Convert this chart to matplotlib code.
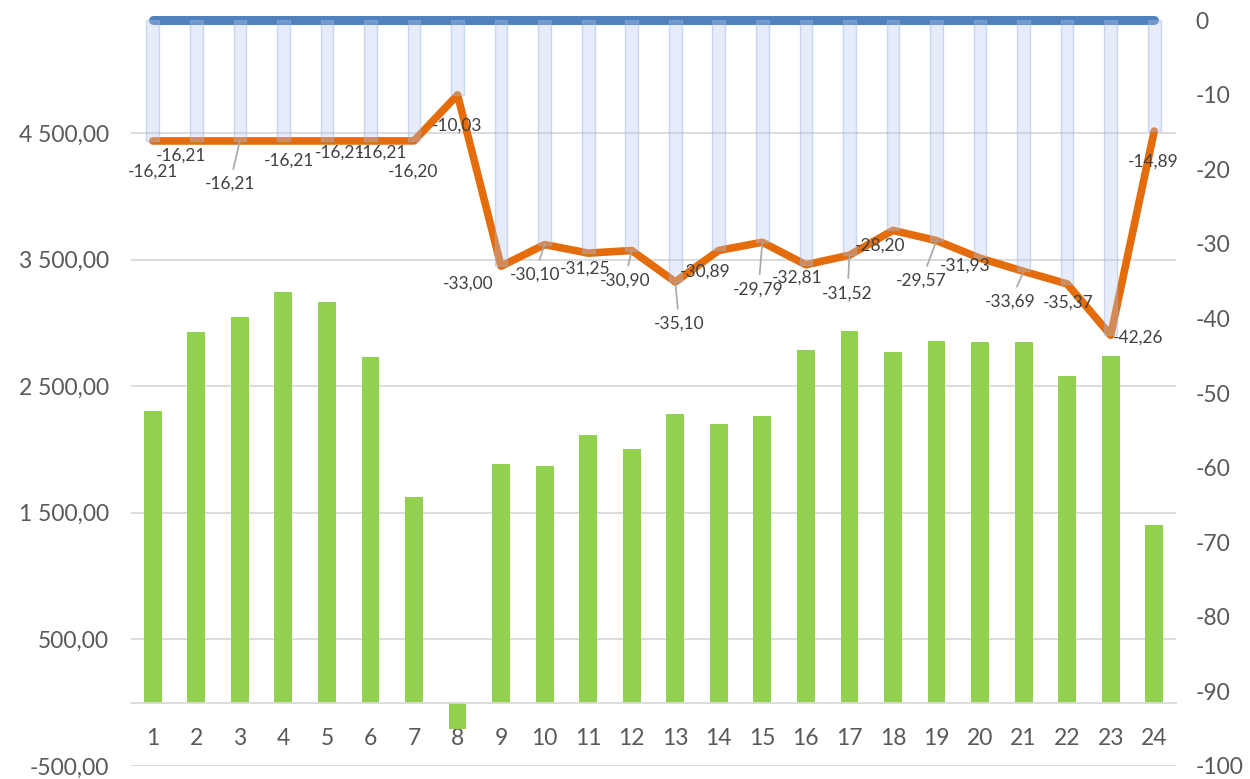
import numpy as np
import matplotlib
import matplotlib.pyplot as plt

matplotlib.rc('font', family=['Lato', 'DejaVu Sans'])

# data
categories = list(range(1, 25))
green_vals = [2306, 2930, 3049, 3246, 3167, 2733, 1627, -205, 1888, 1872, 2117, 2006,
              2283, 2204, 2267, 2788, 2938, 2773, 2859, 2851, 2851, 2583, 2741, 1406]
orange_vals = [-16.21, -16.21, -16.21, -16.21, -16.21, -16.21, -16.20, -10.03, -33.00, -30.10,
               -31.25, -30.90, -35.10, -30.89, -29.79, -32.81, -31.52, -28.20, -29.57, -31.93,
               -33.69, -35.37, -42.26, -14.89]
blue_vals = [0] * 24
left_ticks = [-500, 500, 1500, 2500, 3500, 4500]
right_ticks = list(range(-100, 1, 10))

# label offsets in pixels (dx, dy) and which ones get a leader line
label_offsets = [(0, -31), (-15, -15), (-10, -43), (6, -20), (13, -12), (12, -12), (-1, -31),
                 (0, -31), (-33, -17), (-10, -30), (-3, -15), (-7, -30), (4, -42), (-14, -21),
                 (-4, -47), (-9, -13), (-2, -38), (-13, -15), (-15, -40), (-15, -7), (-13, -30),
                 (1, -19), (27, -2), (-1, -31)]
leaders = [3, 10, 12, 13, 15, 17, 19, 21]

GREEN = '#92D050'
ORANGE = '#E46C0A'
BLUE = '#5081BD'
TXT = '#595959'
GRID = '#D9D9D9'

def fmt_left(v):
  s = f"{v:,.2f}"
  return s.replace(',', ' ').replace('.', ',')

fig = plt.figure(figsize=(12.5, 7.79), dpi=100)
ax = fig.add_axes([0.1048, 0.0167, 0.836, 0.9576])
x = np.array(categories)

ax.bar(x, green_vals, width=0.41, color=GREEN, zorder=2)
ax.set_xlim(0.5, 24.5)
ax.set_ylim(-500, 5393)
ax.set_yticks(left_ticks)
ax.set_yticklabels([fmt_left(v) for v in left_ticks])
ax.set_xticks(x)
ax.set_xticklabels([str(c) for c in categories])
ax.grid(axis='y', color=GRID, linewidth=1.3)
ax.set_axisbelow(True)
for s in ['top', 'left', 'right']:
  ax.spines[s].set_visible(False)
ax.spines['bottom'].set_position(('data', 0))
ax.spines['bottom'].set_color(GRID)
ax.spines['bottom'].set_linewidth(1.3)
ax.tick_params(axis='x', length=0, pad=18, labelsize=16.5, colors=TXT)
ax.tick_params(axis='y', length=0, pad=16, labelsize=16.5, colors=TXT)

ax2 = ax.twinx()
ax2.set_ylim(-100, 0)
ax2.set_yticks(right_ticks)
ax2.set_yticklabels([str(t) for t in right_ticks])
ax2.tick_params(axis='y', length=0, pad=14, labelsize=16.5, colors=TXT)
for s in ax2.spines.values():
  s.set_visible(False)

ax2.plot(x, blue_vals, color=BLUE, linewidth=6.5, solid_capstyle='round', zorder=2, clip_on=False)
ax2.plot(x, orange_vals, color=ORANGE, linewidth=5.5, solid_capstyle='round',
         solid_joinstyle='round', zorder=3)
ax2.bar(x, orange_vals, width=0.29, color=(180/255, 200/255, 240/255, 0.33),
        edgecolor=(150/255, 180/255, 225/255, 0.45), linewidth=1, zorder=4)

for i, v in enumerate(orange_vals):
  dx, dy = label_offsets[i]
  txt = f"{v:.2f}".replace('.', ',')
  if (i + 1) in leaders:
    ax2.annotate(txt, xy=(x[i], v), xytext=(dx, dy), textcoords='offset pixels',
                 ha='center', va='center', fontsize=12.5, color='#404040', zorder=5,
                 arrowprops=dict(arrowstyle='-', color='#A6A6A6', lw=1.2, shrinkA=3, shrinkB=0))
  else:
    ax2.annotate(txt, xy=(x[i], v), xytext=(dx, dy), textcoords='offset pixels',
                 ha='center', va='center', fontsize=12.5, color='#404040', zorder=5)

plt.savefig('out.png', dpi=100)
